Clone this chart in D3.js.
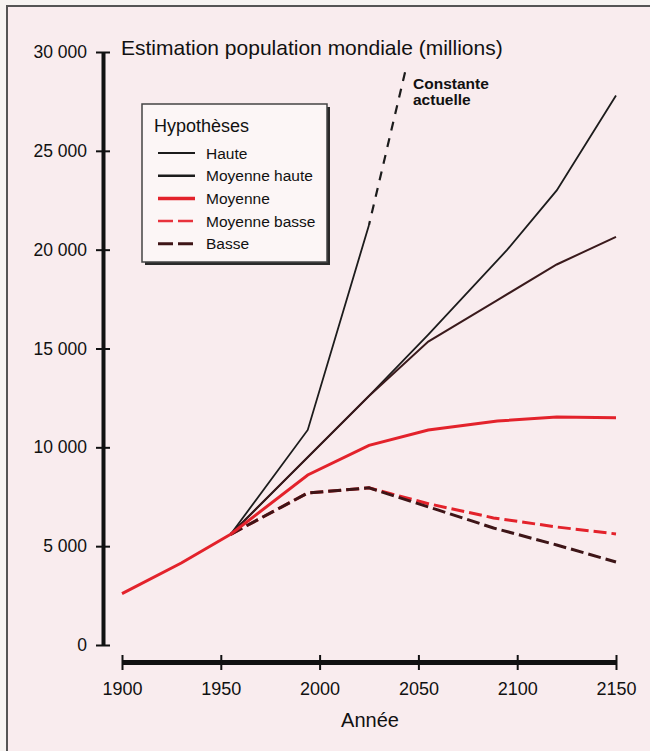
<!DOCTYPE html>
<html><head><meta charset="utf-8">
<script src="https://cdn.jsdelivr.net/npm/d3@7"></script>
<style>
html,body{margin:0;padding:0;background:#f7f4f2;}
svg{display:block;font-family:"Liberation Sans",Arial,Helvetica,sans-serif;}
</style></head>
<body>
<svg id="chart" width="650" height="751"></svg>
<script>
// ---- data ----
const xTicks = [1900, 1950, 2000, 2050, 2100, 2150];
const yTicks = [0, 5000, 10000, 15000, 20000, 25000, 30000];
const trunkYears = [1900, 1930, 1955];
const trunkValues = [2600, 4150, 5600];
const hauteYears = [1955, 2025, 2055, 2095, 2120, 2150];
const hauteValues = [5600, 12600, 15700, 20000, 23000, 27800];
const moyHauteYears = [1955, 2025, 2055, 2090, 2120, 2150];
const moyHauteValues = [5600, 12600, 15350, 17450, 19250, 20650];
const moyenneYears = [1955, 1994, 2025, 2055, 2090, 2120, 2150];
const moyenneValues = [5600, 8600, 10100, 10880, 11330, 11540, 11500];
const moyBasseYears = [1955, 1994, 2025, 2055, 2088, 2120, 2150];
const moyBasseValues = [5600, 7690, 7950, 7150, 6430, 5970, 5620];
const basseYears = [1955, 1994, 2025, 2059, 2088, 2120, 2150];
const basseValues = [5600, 7690, 7950, 6860, 5920, 5060, 4200];
const constSolidYears = [1955, 1994, 2025];
const constSolidValues = [5600, 10880, 21250];
const constDashYears = [2025, 2044];
const constDashValues = [21250, 29300];
const legendLabels = ["Haute", "Moyenne haute", "Moyenne", "Moyenne basse", "Basse"];

const zip = (xs, ys) => xs.map((d, i) => [d, ys[i]]);

const svg = d3.select("#chart");
// frame
svg.append("rect").attr("x", 7).attr("y", 6).attr("width", 660).attr("height", 770)
  .attr("fill", "#f9ecee").attr("stroke", "#555").attr("stroke-width", 2);

const x = d3.scaleLinear().domain([1900, 2150]).range([122, 616]);
const y = d3.scaleLinear().domain([0, 30000]).range([645, 52]);
const line = d3.line().x(d => x(d[0])).y(d => y(d[1]));

const loc = d3.formatLocale({decimal: ",", thousands: " ", grouping: [3], currency: ["", ""]});
const fmt = loc.format(",d");

// y axis
const gy = svg.append("g").attr("transform", "translate(103,0)")
  .call(d3.axisLeft(y).tickValues(yTicks).tickFormat(fmt).tickSizeOuter(0).tickSizeInner(7).tickPadding(9));
gy.select(".domain").attr("stroke", "#111").attr("stroke-width", 4);
gy.selectAll(".tick line").attr("x1", -7).attr("x2", 7).attr("stroke", "#111").attr("stroke-width", 2);
gy.selectAll(".tick text").attr("font-size", 17.5).attr("fill", "#111").attr("x", -16)
  .attr("font-family", "Liberation Sans, Arial, sans-serif");

// x axis
const gx = svg.append("g").attr("transform", "translate(0,662)")
  .call(d3.axisBottom(x).tickValues(xTicks).tickFormat(d3.format("d")).tickSizeOuter(0).tickSizeInner(7).tickPadding(14));
gx.select(".domain").attr("stroke", "#111").attr("stroke-width", 5);
gx.selectAll(".tick line").attr("y1", -7).attr("y2", 8).attr("stroke", "#111").attr("stroke-width", 2);
gx.selectAll(".tick text").attr("font-size", 18).attr("fill", "#111").attr("y", 20)
  .attr("font-family", "Liberation Sans, Arial, sans-serif");

svg.append("text").attr("x", 370).attr("y", 727).attr("text-anchor", "middle")
  .attr("font-size", 20).attr("fill", "#111").text("Année");
svg.append("text").attr("x", 121).attr("y", 55)
  .attr("font-size", 21).attr("fill", "#111").text("Estimation population mondiale (millions)");

// series
const colHaute = "#1c1c1c", colMH = "#3a1a1c", colRed = "#e3222b", colBasse = "#3e1517";
svg.append("path").attr("d", line(zip(hauteYears, hauteValues))).attr("fill", "none")
  .attr("stroke", colHaute).attr("stroke-width", 1.8);
svg.append("path").attr("d", line(zip(moyHauteYears, moyHauteValues))).attr("fill", "none")
  .attr("stroke", colMH).attr("stroke-width", 2);
svg.append("path").attr("d", line(zip(constSolidYears, constSolidValues))).attr("fill", "none")
  .attr("stroke", colHaute).attr("stroke-width", 1.8);
svg.append("path").attr("d", line(zip(constDashYears, constDashValues))).attr("fill", "none")
  .attr("stroke", colHaute).attr("stroke-width", 2.2).attr("stroke-dasharray", "9,8").attr("stroke-dashoffset", -12);
svg.append("path").attr("d", line(zip(moyBasseYears, moyBasseValues))).attr("fill", "none")
  .attr("stroke", colRed).attr("stroke-width", 3).attr("stroke-dasharray", "13,5");
svg.append("path").attr("d", line(zip(basseYears, basseValues))).attr("fill", "none")
  .attr("stroke", colBasse).attr("stroke-width", 3).attr("stroke-dasharray", "13,5");
svg.append("path").attr("d", line(zip(moyenneYears, moyenneValues))).attr("fill", "none")
  .attr("stroke", colRed).attr("stroke-width", 3);
svg.append("path").attr("d", line(zip(trunkYears, trunkValues))).attr("fill", "none")
  .attr("stroke", colRed).attr("stroke-width", 3);

// constante label
const ct = svg.append("text").attr("x", 413).attr("y", 89).attr("font-size", 15.5).attr("font-weight", "bold").attr("fill", "#111");
ct.append("tspan").attr("x", 413).text("Constante");
ct.append("tspan").attr("x", 413).attr("dy", 15.5).text("actuelle");

// legend
const lg = svg.append("g");
lg.append("rect").attr("x", 145).attr("y", 107).attr("width", 185).attr("height", 158).attr("fill", "#2a2a2a");
lg.append("rect").attr("x", 142).attr("y", 104).attr("width", 185).attr("height", 158)
  .attr("fill", "#fcf6f6").attr("stroke", "#444").attr("stroke-width", 1.5);
lg.append("text").attr("x", 154).attr("y", 132).attr("font-size", 18).attr("fill", "#111").text("Hypothèses");
const lstyles = [
  {c: colHaute, w: 2, d: null},
  {c: colHaute, w: 2.5, d: null},
  {c: colRed, w: 3.5, d: null},
  {c: "#e8323c", w: 2.5, d: "15,5"},
  {c: colBasse, w: 3, d: "15,5"}
];
legendLabels.forEach((lab, i) => {
  const yy = 153 + i * 22.7;
  const s = lstyles[i];
  const l = lg.append("line").attr("x1", 158).attr("x2", 195).attr("y1", yy).attr("y2", yy)
    .attr("stroke", s.c).attr("stroke-width", s.w);
  if (s.d) l.attr("stroke-dasharray", s.d);
  lg.append("text").attr("x", 206).attr("y", yy + 5.5).attr("font-size", 15.5).attr("fill", "#111").text(lab);
});
</script>
</body></html>
